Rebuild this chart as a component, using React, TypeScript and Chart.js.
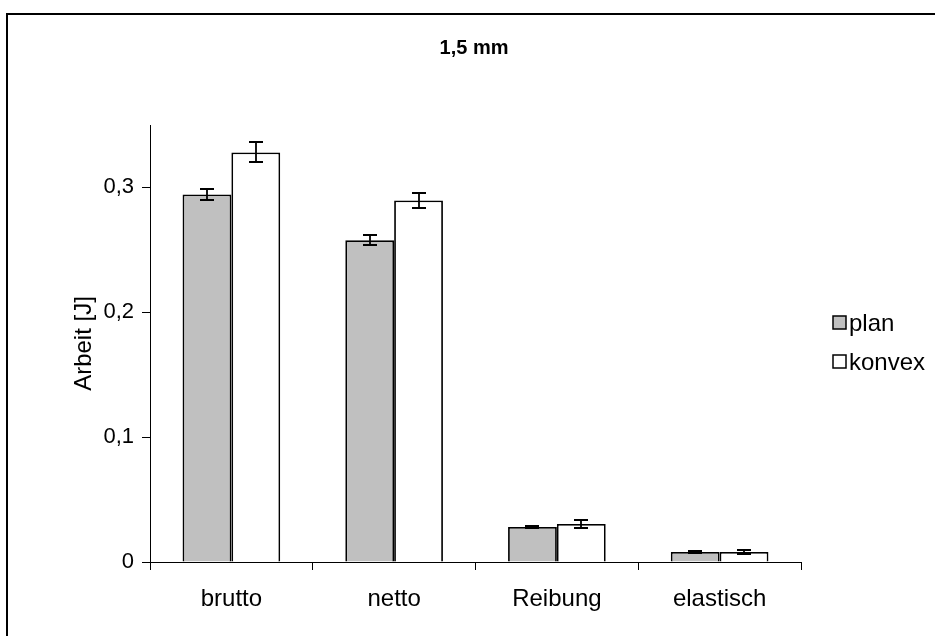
import React, { useEffect, useRef } from "react";
import { Chart, registerables } from "chart.js";

Chart.register(...registerables);

const categories = ["brutto", "netto", "Reibung", "elastisch"];
const seriesNames = ["plan", "konvex"];
const planValues = [0.2944, 0.2576, 0.028, 0.008];
const planErrors = [0.0044, 0.004, 0.001, 0.0005];
const konvexValues = [0.328, 0.2896, 0.0304, 0.008];
const konvexErrors = [0.008, 0.006, 0.003, 0.0015];
const yTickValues = [0, 0.1, 0.2, 0.3];
const titleText = "1,5 mm";
const yAxisTitle = "Arbeit [J]";

const FONT = "'Liberation Sans', Arial, sans-serif";

const frameAndErrors = {
  id: "frameAndErrors",
  beforeDraw(chart: any) {
    const ctx = chart.ctx;
    ctx.save();
    ctx.fillStyle = "#ffffff";
    ctx.fillRect(0, 0, chart.width, chart.height);
    ctx.strokeStyle = "#000000";
    ctx.lineWidth = 2;
    ctx.beginPath();
    ctx.moveTo(7, chart.height + 5);
    ctx.lineTo(7, 14);
    ctx.lineTo(chart.width + 5, 14);
    ctx.stroke();
    ctx.restore();
  },
  afterDatasetsDraw(chart: any) {
    const ctx = chart.ctx;
    const yScale = chart.scales.y;
    ctx.save();
    ctx.strokeStyle = "#000000";
    ctx.lineWidth = 1.8;
    chart.data.datasets.forEach((ds: any, di: number) => {
      const meta = chart.getDatasetMeta(di);
      meta.data.forEach((bar: any, i: number) => {
        const v = ds.data[i];
        const e = ds.errors[i];
        const yTop = Math.round(yScale.getPixelForValue(v + e));
        const yBot = Math.round(yScale.getPixelForValue(v - e));
        const x = Math.round(bar.x);
        const half = 7;
        ctx.beginPath();
        ctx.moveTo(x, yTop);
        ctx.lineTo(x, yBot);
        ctx.moveTo(x - half, yTop);
        ctx.lineTo(x + half, yTop);
        ctx.moveTo(x - half, yBot);
        ctx.lineTo(x + half, yBot);
        ctx.stroke();
      });
    });
    ctx.restore();
  },
  afterDraw(chart: any) {
    const ctx = chart.ctx;
    ctx.save();
    // title
    ctx.fillStyle = "#000000";
    ctx.font = `bold 20px ${FONT}`;
    ctx.textAlign = "center";
    ctx.textBaseline = "alphabetic";
    ctx.fillText(titleText, 474, 54);
    // legend
    const x0 = 833;
    const ys = [323, 362];
    ctx.font = `24px ${FONT}`;
    ctx.textBaseline = "middle";
    ctx.textAlign = "left";
    chart.data.datasets.forEach((ds: any, di: number) => {
      const y = ys[di];
      ctx.fillStyle = ds.backgroundColor;
      ctx.fillRect(x0, y - 7, 13, 13);
      ctx.strokeStyle = "#000000";
      ctx.lineWidth = 1.5;
      ctx.strokeRect(x0, y - 7, 13, 13);
      ctx.fillStyle = "#000000";
      ctx.fillText(ds.label, x0 + 16, y + 1);
    });
    ctx.restore();
  },
};

export default function App() {
  const ref = useRef<HTMLCanvasElement | null>(null);
  useEffect(() => {
    if (!ref.current) return;
    const chart = new Chart(ref.current, {
      type: "bar",
      data: {
        labels: categories,
        datasets: [
          {
            label: seriesNames[0],
            data: planValues,
            errors: planErrors,
            backgroundColor: "#c0c0c0",
            borderColor: "#000000",
            borderWidth: 1.8,
            categoryPercentage: 0.6,
            barPercentage: 1.0,
          } as any,
          {
            label: seriesNames[1],
            data: konvexValues,
            errors: konvexErrors,
            backgroundColor: "#ffffff",
            borderColor: "#000000",
            borderWidth: 1.8,
            categoryPercentage: 0.6,
            barPercentage: 1.0,
          } as any,
        ],
      },
      options: {
        responsive: false,
        animation: false,
        layout: { padding: { left: 0, top: 125, right: 134, bottom: 0 } },
        plugins: {
          legend: { display: false },
          tooltip: { enabled: false },
          title: { display: false },
        },
        scales: {
          x: {
            type: "category",
            grid: {
              offset: true,
              drawOnChartArea: false,
              tickLength: 8,
              color: "#000000",
            },
            border: { color: "#000000", width: 1 },
            ticks: {
              color: "#000000",
              font: { family: FONT, size: 24 },
              padding: 15,
              maxRotation: 0,
            },
            afterFit(scale: any) {
              scale.height = 74;
            },
          },
          y: {
            min: 0,
            max: 0.35,
            grid: {
              drawOnChartArea: false,
              tickLength: 8,
              color: "#000000",
            },
            border: { color: "#000000", width: 1 },
            ticks: {
              stepSize: 0.1,
              color: "#000000",
              font: { family: FONT, size: 22 },
              padding: 8,
              callback: (v: any) => (Number(v) === 0 ? "0" : Number(v).toFixed(1).replace(".", ",")),
            },
            afterBuildTicks(scale: any) {
              scale.ticks = yTickValues.map((v) => ({ value: v }));
            },
            title: {
              display: true,
              text: yAxisTitle,
              color: "#000000",
              font: { family: FONT, size: 24 },
              padding: { top: 70, bottom: 0 },
            },
            afterFit(scale: any) {
              scale.width = 150;
            },
          },
        },
      } as any,
      plugins: [frameAndErrors],
    });
    return () => chart.destroy();
  }, []);
  return (
    <canvas
      ref={ref}
      width={935}
      height={636}
      style={{ position: "absolute", left: 0, top: 0, display: "block" }}
    />
  );
}
